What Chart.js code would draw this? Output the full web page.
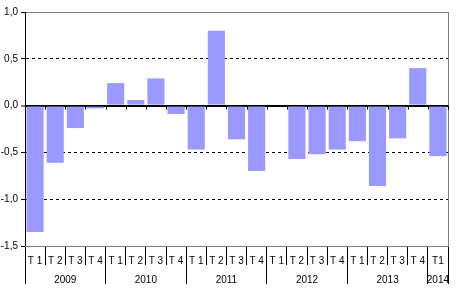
<!DOCTYPE html>
<html>
<head>
<meta charset="utf-8">
<script src="https://cdn.jsdelivr.net/npm/chart.js@4.4.1/dist/chart.umd.min.js"></script>
<style>
  html, body { margin: 0; padding: 0; background: #fff; }
  #wrap { width: 457px; height: 296px; }
</style>
</head>
<body>
<div id="wrap"><canvas id="chart"></canvas></div>
<script>
// quarterly values, 2009 T1 .. 2014 T1
const quarters = ['T 1', 'T 2', 'T 3', 'T 4', 'T 1', 'T 2', 'T 3', 'T 4', 'T 1', 'T 2', 'T 3', 'T 4',
                  'T 1', 'T 2', 'T 3', 'T 4', 'T 1', 'T 2', 'T 3', 'T 4', 'T1'];
const values = [-1.35, -0.61, -0.24, -0.03, 0.24, 0.06, 0.29, -0.09, -0.47, 0.80, -0.36, -0.70,
                0.01, -0.57, -0.52, -0.47, -0.38, -0.86, -0.35, 0.40, -0.54];
const years = ['2009', '2010', '2011', '2012', '2013', '2014'];
const yearCenters = [1.5, 5.5, 9.5, 13.5, 17.5, 20];
const yearBounds = [-0.5, 3.5, 7.5, 11.5, 15.5, 19.5, 20.5];
const yTicks = [1.0, 0.5, 0, -0.5, -1.0, -1.5];

const font = { family: 'Liberation Sans, Arial, sans-serif', size: 10 };
const tickVal = ctx => (ctx && ctx.tick ? ctx.tick.value : null);

// small tick marks hanging under the zero line
const zeroTicks = {
    id: 'zeroTicks',
    afterDatasetsDraw(chart) {
        const x = chart.scales.x, y = chart.scales.y;
        const y0 = y.getPixelForValue(0);
        const c = chart.ctx;
        c.save();
        c.strokeStyle = '#000';
        c.lineWidth = 1;
        c.beginPath();
        for (let i = 0; i <= quarters.length; i++) {
            const px = Math.round(x.getPixelForValue(i - 0.5)) + 0.5;
            c.moveTo(px, y0);
            c.lineTo(px, y0 + 4);
        }
        c.stroke();
        c.restore();
    }
};

new Chart(document.getElementById('chart'), {
    type: 'bar',
    data: {
        labels: quarters,
        datasets: [{
            data: values,
            backgroundColor: '#9999ff',
            barPercentage: 0.85,
            categoryPercentage: 1.0
        }]
    },
    plugins: [zeroTicks],
    options: {
        responsive: true,
        maintainAspectRatio: false,
        animation: false,
        layout: { padding: { top: 12, right: 9, bottom: 11, left: 0 } },
        plugins: { legend: { display: false }, tooltip: { enabled: false } },
        scales: {
            y: {
                min: -1.5,
                max: 1.0,
                afterBuildTicks: s => { s.ticks = yTicks.map(v => ({ value: v })); },
                afterFit: s => { s.width = 25; },
                ticks: {
                    font: font,
                    color: '#000',
                    padding: 3,
                    callback: v => Number(v).toFixed(1).replace('.', ',')
                },
                grid: {
                    tickLength: 4,
                    color: ctx => {
                        const v = tickVal(ctx);
                        if (v === 1 || v === -1.5) return '#808080';
                        return '#000';
                    },
                    lineWidth: ctx => (tickVal(ctx) === 0 ? 2 : 1),
                    tickColor: '#000',
                    tickWidth: 1
                },
                border: {
                    color: '#000',
                    width: 1,
                    dash: ctx => {
                        const v = tickVal(ctx);
                        return (v === 0.5 || v === -0.5 || v === -1) ? [3, 3] : [];
                    }
                }
            },
            y2: {
                position: 'right',
                min: -1.5,
                max: 1.0,
                afterFit: s => { s.width = 0; },
                ticks: { display: false },
                grid: { display: false },
                border: { color: '#808080', width: 1 }
            },
            x: {
                position: 'bottom',
                afterFit: s => { s.height = 19; },
                ticks: {
                    font: font,
                    color: '#000',
                    padding: -10,
                    autoSkip: false,
                    maxRotation: 0
                },
                grid: {
                    drawOnChartArea: false,
                    tickLength: 19,
                    color: '#000',
                    offset: true
                },
                border: { color: '#808080', width: 1 }
            },
            years: {
                type: 'linear',
                position: 'bottom',
                min: -0.5,
                max: 20.5,
                offset: false,
                afterBuildTicks: s => {
                    s.ticks = yearBounds.concat(yearCenters).map(v => ({ value: v }));
                },
                afterFit: s => { s.height = 20; },
                ticks: {
                    font: font,
                    color: '#000',
                    padding: -10,
                    autoSkip: false,
                    maxRotation: 0,
                    callback: v => {
                        const i = yearCenters.indexOf(v);
                        return i >= 0 ? years[i] : '';
                    }
                },
                grid: {
                    drawOnChartArea: false,
                    offset: false,
                    tickLength: 19,
                    color: ctx => (yearBounds.includes(tickVal(ctx)) ? '#000' : 'rgba(0,0,0,0)')
                },
                border: { display: false }
            }
        }
    }
});
</script>
</body>
</html>
